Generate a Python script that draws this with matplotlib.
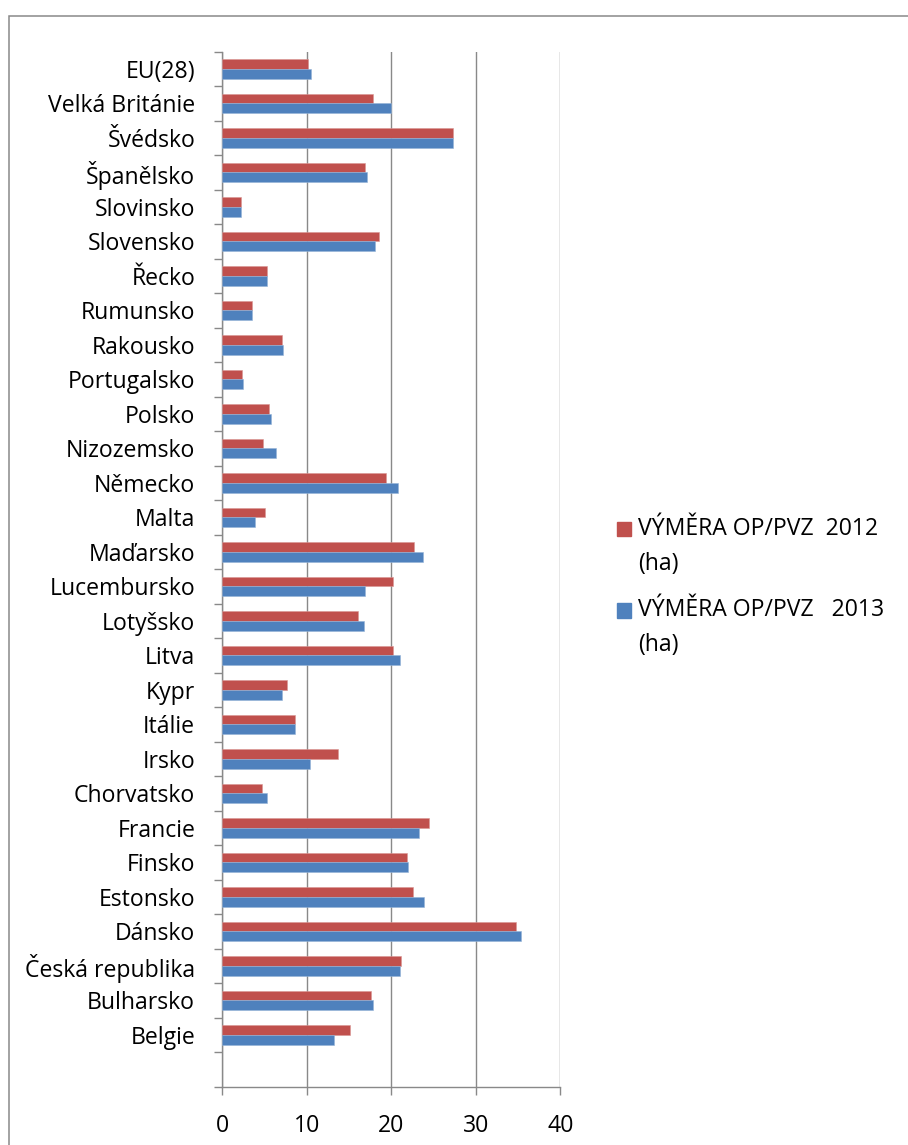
import numpy as np
import matplotlib
matplotlib.use("Agg")
import matplotlib.pyplot as plt
from matplotlib.patches import Rectangle

plt.rcParams["font.family"] = ["Open Sans", "DejaVu Sans"]

# categories bottom -> top (as drawn)
countries = [
    "Belgie", "Bulharsko", "Česká republika", "Dánsko", "Estonsko", "Finsko",
    "Francie", "Chorvatsko", "Irsko", "Itálie", "Kypr", "Litva", "Lotyšsko",
    "Lucembursko", "Maďarsko", "Malta", "Německo", "Nizozemsko", "Polsko",
    "Portugalsko", "Rakousko", "Rumunsko", "Řecko", "Slovensko", "Slovinsko",
    "Španělsko", "Švédsko", "Velká Británie", "EU(28)",
]
vymera_2012 = [
    15.15, 17.55, 21.18, 34.75, 22.52, 21.89, 24.42, 4.73, 13.65, 8.56,
    7.65, 20.16, 16.09, 20.16, 22.72, 5.01, 19.37, 4.85, 5.56, 2.29,
    7.10, 3.47, 5.29, 18.50, 2.21, 16.92, 27.26, 17.87, 10.18,
]
vymera_2013 = [
    13.25, 17.79, 21.03, 35.35, 23.83, 22.01, 23.27, 5.33, 10.41, 8.56,
    7.06, 21.07, 16.80, 16.88, 23.71, 3.87, 20.79, 6.39, 5.76, 2.49,
    7.22, 3.55, 5.29, 18.10, 2.25, 17.08, 27.34, 19.96, 10.45,
]
series_names = ["VÝMĚRA OP/PVZ  2012\n(ha)", "VÝMĚRA OP/PVZ   2013\n(ha)"]
colors = ["#C0504D", "#4F81BD"]
x_ticks = [0, 10, 20, 30, 40]

W, H = 908, 1145
FS = 16.6
fig = plt.figure(figsize=(W / 100, H / 100), dpi=100)
grey = "#898989"

# outer chart border (runs off the right/bottom edge)
fig.patches.append(Rectangle((9 / W, -0.05), 1.2, 1 - 16 / H + 0.05,
                             transform=fig.transFigure, fill=False,
                             edgecolor=grey, lw=1.1))

ax = fig.add_axes([222.3 / W, 1 - 1086.7 / H, (560.3 - 222.3) / W,
                   (1086.7 - 51.7) / H])

y = np.arange(len(countries))
h = 0.28
bars_12 = ax.barh(y + h / 2, vymera_2012, height=h, color=colors[0],
                  edgecolor="#d99694", lw=0.4, zorder=3)
bars_13 = ax.barh(y - h / 2, vymera_2013, height=h, color=colors[1],
                  edgecolor="#95b3d7", lw=0.4, zorder=3)

ax.set_xlim(0, 40)
ax.set_ylim(-1.5, len(countries) - 0.5)
ax.set_xticks(x_ticks)
ax.set_xticklabels([str(t) for t in x_ticks], fontsize=FS)
ax.xaxis.grid(True, color=grey, lw=1.0, zorder=0)

# category boundaries as major ticks, names on minor ticks
ax.set_yticks(np.arange(-1.5, len(countries), 1.0))
ax.set_yticklabels([])
ax.set_yticks(y, minor=True)
ax.set_yticklabels(countries, minor=True, fontsize=FS)
ax.tick_params(axis="y", which="major", length=5.8, width=1.0, color=grey,
               direction="out")
ax.tick_params(axis="y", which="minor", length=0, pad=19.5)
ax.tick_params(axis="x", length=5.8, width=1.0, color=grey, pad=14)

for s in ["top", "right"]:
    ax.spines[s].set_visible(False)
for s in ["left", "bottom"]:
    ax.spines[s].set_color(grey)
    ax.spines[s].set_linewidth(1.0)

# legend drawn by hand, Excel style
for i, (name, c) in enumerate(zip(series_names, colors)):
    top = 521.7 + i * 81.5
    fig.patches.append(Rectangle((616.7 / W, 1 - (top + 14.5) / H),
                                 14.5 / W, 14.5 / H,
                                 transform=fig.transFigure, color=c))
    fig.text(638 / W, 1 - (top - 5) / H, name, fontsize=FS, va="top",
             ha="left", linespacing=1.6)

fig.savefig("out.png", dpi=100)
